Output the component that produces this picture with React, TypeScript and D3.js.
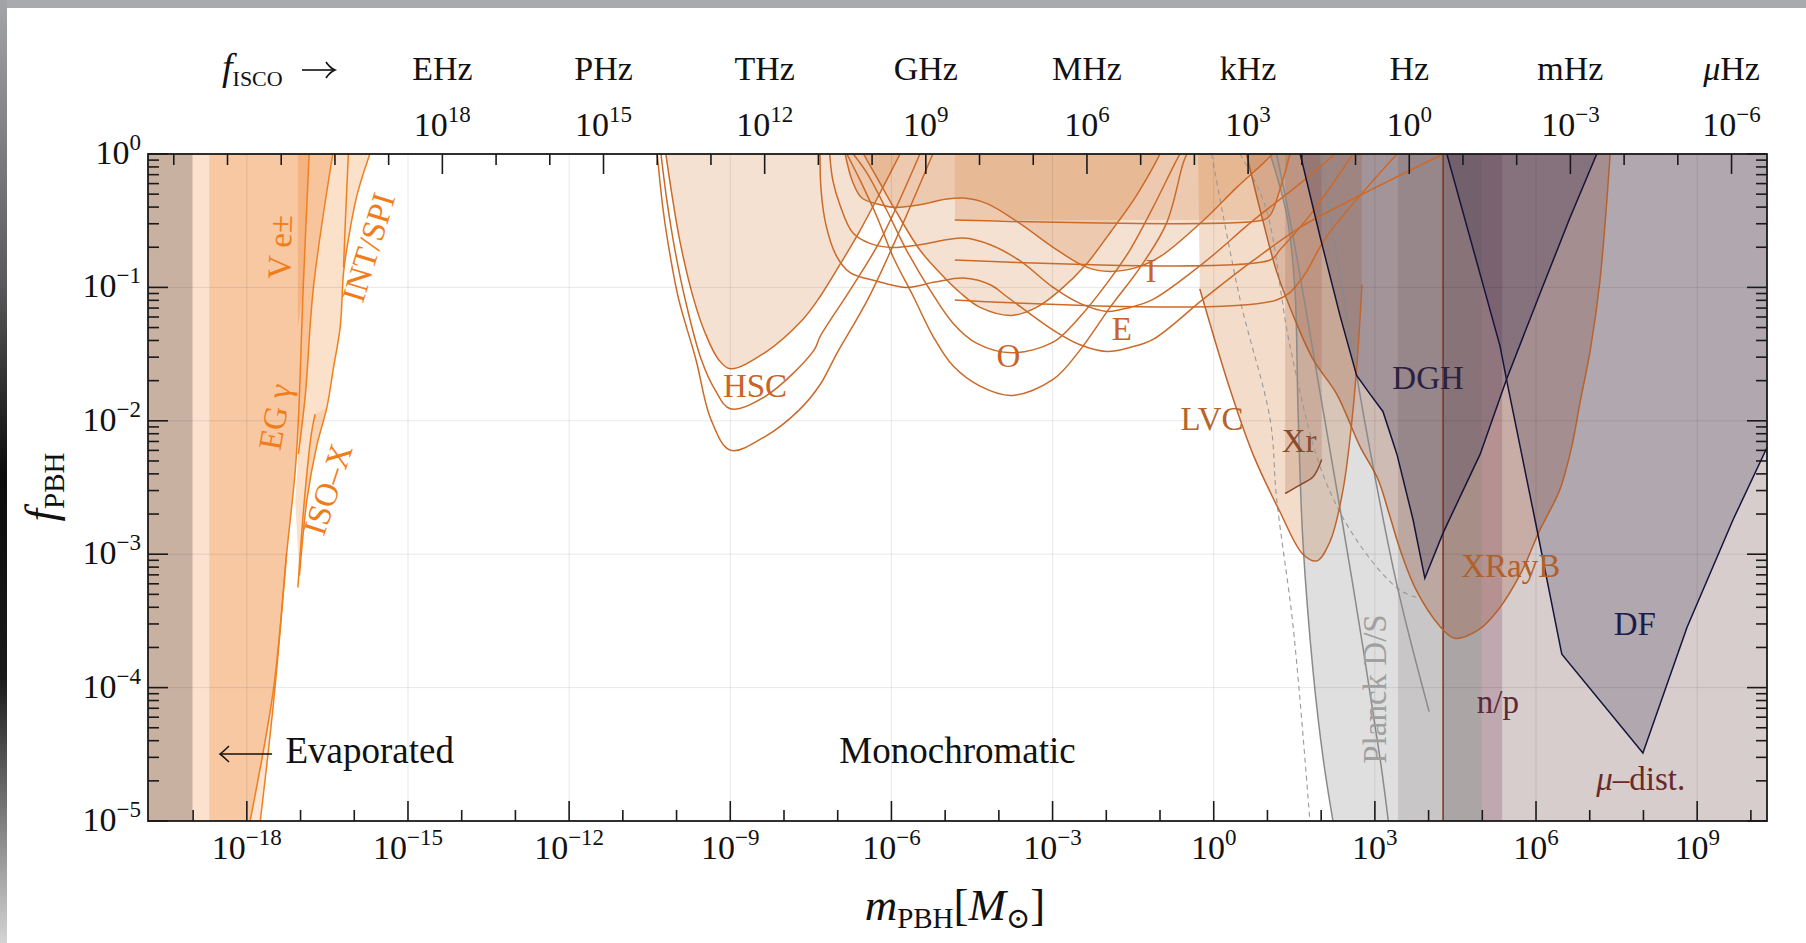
import React from "react";
import * as d3 from "d3";

type Pt = [number, number];

// every value is [log10(m / M_sun), log10(f_PBH)]
const massRange: Pt = [-19.84, 10.3];
const fracRange: Pt = [-5, 0];
const massTicks = d3.range(-19, 11);
const massLabels = [-18, -15, -12, -9, -6, -3, 0, 3, 6, 9];
const fracLabels = [0, -1, -2, -3, -4, -5];
const freqTicks = d3.range(-6, 24);
const freqLabels = [18, 15, 12, 9, 6, 3, 0, -3, -6];
const freqUnits = ["EHz", "PHz", "THz", "GHz", "MHz", "kHz", "Hz", "mHz", "μHz"];
const iscoConst = 3.64; // log10 f_ISCO[Hz] = 3.64 - log10 m

// evaporation
const evapRange: Pt = [-19.84, -19.01];
const brightRange: Pt = [-19.01, -18.7];
const egLine: Pt[] = [[-17.94, -5], [-17.5, -4], [-17.26, -3], [-17.1, -2.38], [-17.04, -1.99], [-16.95, -1], [-16.84, 0]];
const egLine2: Pt[] = [[-17.75, -5], [-17.5, -4.1], [-17.26, -3]];
const veBand: Pt[] = [[-17.05, 0], [-16.84, 0], [-16.95, -1], [-17.05, -1.3]];
const intLine: Pt[] = [[-17.04, -2.25], [-16.91, -1.8], [-16.76, -1], [-16.4, 0]];
const spiLine: Pt[] = [[-17.02, -3.16], [-16.88, -2.59], [-16.7, -2.19], [-16.51, -1.9], [-16.39, -1.61], [-16.26, -1.29], [-16.2, -0.89], [-16.11, -0.64], [-15.95, -0.31], [-15.71, 0]];
const spiLine2: Pt[] = [[-16.11, 0], [-16.16, -0.45], [-16.2, -0.85]];
const isoLine: Pt[] = [[-17.05, -3.25], [-16.93, -2.6], [-16.8, -2.1], [-16.73, -1.95]];

// microlensing
const hscInner: Pt[] = [[-10.2, 0], [-10.1, -0.27], [-9.94, -0.65], [-9.68, -1.09], [-9.47, -1.34], [-9.22, -1.54], [-9.0, -1.61], [-8.36, -1.49], [-7.65, -1.24], [-7.33, -1.07], [-6.96, -0.83], [-6.58, -0.57], [-6.21, -0.29], [-5.84, 0]];
const hscMid: Pt[] = [[-10.29, 0], [-10.18, -0.35], [-10.03, -0.72], [-9.84, -1.09], [-9.54, -1.54], [-9.28, -1.77], [-9.0, -1.91], [-8.36, -1.82], [-7.44, -1.47], [-7.33, -1.37], [-6.77, -1.02], [-6.21, -0.65], [-5.47, 0]];
const hscOuter: Pt[] = [[-10.36, 0], [-10.25, -0.42], [-10.12, -0.76], [-9.96, -1.09], [-9.64, -1.54], [-9.36, -1.99], [-9.0, -2.22], [-8.36, -2.12], [-7.72, -1.92], [-7.33, -1.73], [-7.01, -1.49], [-6.44, -1.09], [-5.84, -0.57], [-5.23, 0]];
const ogleInner: Pt[] = [[-6.52, 0], [-6.21, -0.22], [-5.9, -0.44], [-5.47, -0.72], [-5.1, -0.89], [-4.72, -1.04], [-4.35, -1.15], [-3.76, -1.21], [-3.3, -1.15], [-2.86, -1.02], [-2.36, -0.82], [-1.93, -0.59], [-1.5, -0.35], [-1.13, -0.1], [-1.0, 0]];
const ogleMid: Pt[] = [[-6.71, 0], [-6.46, -0.14], [-6.09, -0.42], [-5.72, -0.72], [-5.28, -1.02], [-4.85, -1.27], [-4.41, -1.42], [-3.76, -1.49], [-2.99, -1.41], [-2.49, -1.22], [-1.99, -0.97], [-1.56, -0.72], [-1.13, -0.4], [-0.76, -0.1], [-0.63, 0]];
const ogleOuter: Pt[] = [[-6.83, 0], [-6.58, -0.2], [-6.27, -0.47], [-5.97, -0.77], [-5.59, -1.07], [-5.22, -1.37], [-4.85, -1.59], [-4.35, -1.74], [-3.76, -1.81], [-2.99, -1.69], [-2.49, -1.47], [-1.93, -1.15], [-1.37, -0.85], [-0.88, -0.52], [-0.57, -0.07], [-0.5, 0]];
const erosTop: Pt[] = [[-6.86, 0], [-6.73, -0.2], [-6.55, -0.33], [-6.21, -0.38], [-5.94, -0.4], [-5.47, -0.38], [-5.0, -0.34], [-4.66, -0.33], [-4.23, -0.37], [-3.61, -0.52], [-2.99, -0.7], [-2.36, -0.85], [-1.93, -0.88], [-1.43, -0.85], [-1.0, -0.77], [-0.2, -0.5], [0.43, -0.25], [0.92, -0.07], [1.1, 0]];
const erosMid: Pt[] = [[-7.15, 0], [-7.09, -0.2], [-6.96, -0.38], [-6.72, -0.59], [-6.4, -0.67], [-6.01, -0.7], [-5.47, -0.68], [-4.66, -0.63], [-4.16, -0.68], [-3.61, -0.8], [-2.99, -1.0], [-2.49, -1.12], [-1.99, -1.18], [-1.56, -1.15], [-1.13, -1.09], [-0.2, -0.82], [0.73, -0.5], [1.61, -0.22], [2.26, 0]];
const erosLow: Pt[] = [[-7.33, 0], [-7.31, -0.27], [-7.22, -0.53], [-7.03, -0.76], [-6.77, -0.89], [-6.3, -0.95], [-5.73, -1.0], [-5.19, -0.96], [-4.66, -0.93], [-4.16, -0.98], [-3.85, -1.07], [-2.99, -1.32], [-2.49, -1.43], [-1.99, -1.48], [-1.56, -1.45], [-1.13, -1.39], [-0.2, -1.09], [0.73, -0.8], [1.61, -0.55], [2.48, -0.36], [4.27, 0]];
const icarus1: Pt[] = [[-4.82, -0.495], [0.92, -0.495], [1.05, -0.46], [1.23, -0.27], [1.42, 0]];
const icarus2: Pt[] = [[-4.82, -0.795], [1.05, -0.795], [1.23, -0.72], [1.79, -0.46], [2.59, 0]];
const icarus3: Pt[] = [[-4.82, -1.094], [1.17, -1.094], [1.61, -0.95], [2.1, -0.62], [3.41, 0]];

// gravitational waves / accretion
const lvcCurve: Pt[] = [[-0.26, -1.01], [0.3, -1.76], [0.73, -2.25], [1.23, -2.68], [1.66, -3.0], [1.92, -3.05], [2.17, -2.9], [2.41, -2.51], [2.59, -1.93], [2.69, -1.44], [2.76, -0.98]];
const lvcEdges: Pt = [-0.29, 2.76];
const xrRange: Pt = [1.33, 2.01];
const xrCurve: Pt[] = [[1.33, -2.545], [1.61, -2.48], [1.85, -2.42], [2.01, -2.29]];
const xrayB: Pt[] = [[0.61, 0], [0.89, -0.46], [1.17, -0.88], [1.48, -1.21], [1.85, -1.54], [2.29, -1.8], [2.72, -2.19], [3.06, -2.44], [3.26, -2.69], [3.49, -2.99], [3.77, -3.27], [4.21, -3.54], [4.49, -3.63], [4.92, -3.57], [5.29, -3.42], [5.72, -3.14], [6.07, -2.82], [6.44, -2.52], [6.65, -2.22], [6.83, -1.84], [7.01, -1.47], [7.19, -0.95], [7.38, 0]];
const planckD: Pt[] = [[1.05, 0], [1.36, -0.46], [1.51, -1.01], [1.57, -1.93], [1.66, -2.9], [1.85, -3.88], [2.04, -4.54], [2.22, -5]];
const planckS: Pt[] = [[1.17, 0], [1.45, -0.56], [2.04, -1.93], [2.59, -3.23], [3.1, -4.54], [3.25, -5]];
const planckAlt: Pt[] = [[1.98, 0], [2.3, -0.79], [2.85, -2.09], [3.41, -3.23], [4.01, -4.18]];
const dashed1: Pt[] = [[-0.04, 0], [0.49, -1.09], [1.05, -1.99], [1.17, -2.58], [1.48, -3.55], [1.79, -5]];
const dashed2: Pt[] = [[0.49, 0], [0.96, -0.39], [1.42, -1.44], [2.04, -2.41], [2.72, -2.93], [3.47, -3.27], [3.84, -3.33]];
const planckEdge = 5.37;

// dynamical / cosmological
const dgh: Pt[] = [[1.61, 0], [1.98, -0.62], [2.35, -1.21], [2.66, -1.66], [2.91, -1.8], [3.15, -1.93], [3.41, -2.25], [3.71, -2.74], [3.93, -3.18], [4.27, -2.84], [4.96, -2.25], [5.45, -1.69], [6.07, -1.05], [6.63, -0.48], [7.13, 0]];
const df: Pt[] = [[4.34, 0], [5.33, -1.44], [5.45, -1.69], [6.01, -2.8], [6.48, -3.75], [7.99, -4.49], [8.81, -3.55], [9.67, -2.74], [10.3, -2.2]];
const grayBand: Pt = [3.43, 5.37];
const darkBand: Pt = [4.27, 4.99];
const npBand: Pt = [4.99, 5.37];
const muBand: Pt = [5.37, 10.3];
const brownLine = 4.27;

// text annotations: [logm, logf]
const labels = [
  { t: "HSC", p: [-8.54, -1.82], c: "#c8642a" },
  { t: "O", p: [-3.82, -1.594], c: "#c8642a" },
  { t: "E", p: [-1.71, -1.394], c: "#c8642a" },
  { t: "I", p: [-1.17, -0.963], c: "#c8642a" },
  { t: "LVC", p: [-0.03, -2.069], c: "#b5652d" },
  { t: "Xr", p: [1.59, -2.234], c: "#8b4a2b" },
  { t: "DGH", p: [3.99, -1.762], c: "#2a2140" },
  { t: "XRayB", p: [5.53, -3.169], c: "#b0602a" },
  { t: "DF", p: [7.84, -3.604], c: "#1c1c4a" },
  { t: "n/p", p: [5.29, -4.19], c: "#5a2a3a" },
];
const rotLabels = [
  { t: "V e±", p: [-17.38, -0.697], r: -88, c: "#f07d1a" },
  { t: "EG γ", p: [-17.47, -1.97], r: -80, c: "#f07d1a" },
  { t: "INT/SPI", p: [-15.73, -0.702], r: -73, c: "#f07d1a" },
  { t: "ISO–X", p: [-16.49, -2.515], r: -72, c: "#f07d1a" },
  { t: "Planck D/S", p: [3.0, -4.011], r: -90, c: "#a0a0a0" },
];
const monoLabel: Pt = [-4.77, -4.565];
const evapLabel: Pt = [-17.28, -4.565];
const evapArrow: Pt[] = [[-17.53, -4.498], [-18.5, -4.498]];
const muLabel: Pt = [7.95, -4.77];

const FONT = "'Liberation Serif', 'DejaVu Serif', serif";
const LW = 1.5;

const sup = (e: number) => (e < 0 ? "−" + -e : String(e));

export default function App() {
  const L = 148, R = 1767, T = 154, B = 821;
  const x = d3.scaleLog().domain([10 ** massRange[0], 10 ** massRange[1]]).range([L, R]);
  const y = d3.scaleLog().domain([10 ** fracRange[0], 10 ** fracRange[1]]).range([B, T]);
  const X = (v: number) => x(10 ** v);
  const Y = (v: number) => y(10 ** v);
  const P = (p: number[]): [number, number] => [X(p[0]), Y(p[1])];
  const smooth = d3.line().curve(d3.curveCatmullRom.alpha(0.5));
  const linear = d3.line();
  const line = (pts: Pt[], s = true) => (s ? smooth : linear)(pts.map(P)) as string;
  const area = (pts: Pt[], close: Pt[] = [], s = true) =>
    line(pts, s) + close.map((p) => "L" + P(p).join(",")).join("") + "Z";
  const band = (r: Pt, lo = fracRange[0], hi = fracRange[1]) =>
    `M${X(r[0])},${Y(lo)}H${X(r[1])}V${Y(hi)}H${X(r[0])}Z`;

  const evapStroke = "#f07f1e";
  const lensStroke = "#cc6a28";
  const lensFill = "rgba(215,138,78,0.26)";
  const navy = "#15153c";

  const yMinor: number[] = [];
  for (let n = -5; n < 0; n++) for (let k = 2; k <= 9; k++) yMinor.push(n + Math.log10(k));

  const ax = X(evapArrow[1][0]);
  const ay = Y(evapArrow[1][1]);

  return (
    <div style={{ position: "absolute", left: 0, top: 0, width: 1806, height: 943, background: "#fff" }}>
      <svg width={1806} height={943} style={{ display: "block", fontFamily: FONT }}>
        <defs>
          <clipPath id="plot">
            <rect x={L} y={T} width={R - L} height={B - T} />
          </clipPath>
          <linearGradient id="edge" x1="0" y1="0" x2="0" y2="1">
            <stop offset="0" stopColor="#a3a4a8" />
            <stop offset="0.3" stopColor="#5a5a5c" />
            <stop offset="0.5" stopColor="#0c0c0c" />
            <stop offset="0.72" stopColor="#1a1a1a" />
            <stop offset="1" stopColor="#d4d4d4" />
          </linearGradient>
        </defs>
        <rect x={0} y={0} width={1806} height={8} fill="#a9aaae" />
        <rect x={0} y={0} width={7} height={943} fill="url(#edge)" />

        <g clipPath="url(#plot)">
          {/* evaporation */}
          <path d={band(evapRange)} fill="#c9b1a2" />
          <path d={band(brightRange)} fill="rgba(240,130,50,0.24)" />
          <path d={area(egLine, [[brightRange[1], 0], [brightRange[1], -5]])} fill="rgba(238,125,35,0.42)" />
          <path d={area(egLine2, [[-17.5, -4], [-17.94, -5]])} fill="rgba(238,125,35,0.2)" />
          <path d={area(intLine, [[-16.84, 0], [-16.95, -1], [-17.04, -1.99]])} fill="rgba(238,125,35,0.45)" />
          <path d={area(veBand, [], false)} fill="rgba(235,115,30,0.25)" />
          <path d={area(spiLine, [[-16.4, 0], [-16.76, -1], [-16.91, -1.8], [-17.04, -2.25], [-17.1, -2.6]])} fill="rgba(238,125,35,0.24)" />
          <path d={area(isoLine, [[-16.51, -1.9], [-16.7, -2.19], [-16.88, -2.59], [-17.02, -3.16]])} fill="rgba(238,125,35,0.14)" />

          {/* microlensing */}
          <path d={area(hscInner)} fill={lensFill} />
          <path d={area(ogleInner)} fill={lensFill} />
          <path d={area(erosTop)} fill={lensFill} />
          <path d={area(icarus1, [[icarus1[0][0], 0]], false)} fill={lensFill} />
          <path d={area(lvcCurve, [[lvcEdges[1], 0], [lvcEdges[0], 0]])} fill="rgba(220,140,80,0.3)" />

          {/* accretion and dynamics */}
          <path d={area(planckD, [[planckEdge, -5], [planckEdge, 0]])} fill="rgba(128,128,128,0.25)" />
          <path d={band(grayBand)} fill="rgba(128,120,120,0.24)" />
          <path d={band(darkBand)} fill="rgba(110,90,90,0.3)" />
          <path d={band(npBand)} fill="rgba(170,90,120,0.28)" />
          <path d={band(muBand)} fill="rgba(150,120,120,0.37)" />
          <path d={area(xrayB)} fill="rgba(150,80,50,0.25)" />
          <path d={area(xrCurve, [[xrRange[1], 0], [xrRange[0], 0]])} fill="rgba(150,80,50,0.2)" />
          <path d={area(dgh, [], false)} fill="rgba(40,30,70,0.25)" />
          <path d={area(df, [[massRange[1], 0]], false)} fill="rgba(40,30,70,0.22)" />

          {/* outlines */}
          <g fill="none" strokeWidth={1.1} stroke="#999" strokeDasharray="5,4">
            <path d={line(dashed1)} />
            <path d={line(dashed2)} />
          </g>
          <g fill="none" strokeWidth={LW} stroke="#8a8a8a">
            <path d={line(planckD)} />
            <path d={line(planckS)} />
            <path d={line(planckAlt)} />
          </g>
          <line x1={X(brownLine)} x2={X(brownLine)} y1={T} y2={B} stroke="#7a3424" strokeWidth={LW} />
          <g fill="none" strokeWidth={LW} stroke={evapStroke}>
            <path d={line(egLine)} />
            <path d={line(egLine2)} />
            <path d={line(intLine)} />
            <path d={line(spiLine)} />
            <path d={line(spiLine2)} />
            <path d={line(isoLine)} />
          </g>
          <g fill="none" strokeWidth={LW} stroke={lensStroke}>
            {[hscInner, hscMid, hscOuter, ogleInner, ogleMid, ogleOuter, erosTop, erosMid, erosLow].map((c, i) => (
              <path key={i} d={line(c)} />
            ))}
            {[icarus1, icarus2, icarus3].map((c, i) => (
              <path key={"i" + i} d={line(c)} />
            ))}
          </g>
          <path d={line(lvcCurve)} fill="none" stroke="#bf6630" strokeWidth={LW} />
          <path d={line(xrCurve)} fill="none" stroke="#8b4a2b" strokeWidth={LW} />
          <path d={line(xrayB)} fill="none" stroke="#b5622c" strokeWidth={LW} />
          <path d={line(dgh, false)} fill="none" stroke={navy} strokeWidth={LW} />
          <path d={line(df, false)} fill="none" stroke={navy} strokeWidth={LW} />

          {/* grid */}
          <g stroke="rgba(0,0,0,0.09)" strokeWidth={1}>
            {massLabels.map((m) => (
              <line key={m} x1={X(m)} x2={X(m)} y1={T} y2={B} />
            ))}
            {fracLabels.slice(1, 5).map((f) => (
              <line key={f} x1={L} x2={R} y1={Y(f)} y2={Y(f)} />
            ))}
          </g>
        </g>

        {/* frame and ticks */}
        <rect x={L} y={T} width={R - L} height={B - T} fill="none" stroke="#1a1a1a" strokeWidth={1.8} />
        <g stroke="#1a1a1a" strokeWidth={1.6}>
          {massTicks.map((m) => {
            const len = m % 3 === 0 ? 20 : 11;
            return <line key={m} x1={X(m)} x2={X(m)} y1={B} y2={B - len} />;
          })}
          {freqTicks.map((f) => {
            const m = iscoConst - f;
            const len = freqLabels.includes(f) ? 20 : 11;
            return <line key={f} x1={X(m)} x2={X(m)} y1={T} y2={T + len} />;
          })}
          {fracLabels.map((f) => (
            <g key={f}>
              <line x1={L} x2={L + 20} y1={Y(f)} y2={Y(f)} />
              <line x1={R} x2={R - 20} y1={Y(f)} y2={Y(f)} />
            </g>
          ))}
          {yMinor.map((f, i) => (
            <g key={i}>
              <line x1={L} x2={L + 11} y1={Y(f)} y2={Y(f)} />
              <line x1={R} x2={R - 11} y1={Y(f)} y2={Y(f)} />
            </g>
          ))}
        </g>

        {/* tick labels */}
        <g fill="#111" fontSize={34}>
          {massLabels.map((m) => (
            <text key={m} x={X(m)} y={859} textAnchor="middle">
              10<tspan dy={-14} fontSize={23}>{sup(m)}</tspan>
            </text>
          ))}
          {fracLabels.map((f) => (
            <text key={f} x={141} y={Y(f) + 10} textAnchor="end">
              10<tspan dy={-14} fontSize={23}>{sup(f)}</tspan>
            </text>
          ))}
          {freqLabels.map((f, i) => (
            <g key={f}>
              <text x={X(iscoConst - f)} y={80} textAnchor="middle">
                {freqUnits[i].startsWith("μ") ? (
                  <>
                    <tspan fontStyle="italic">μ</tspan>
                    {freqUnits[i].slice(1)}
                  </>
                ) : (
                  freqUnits[i]
                )}
              </text>
              <text x={X(iscoConst - f)} y={136} textAnchor="middle">
                10<tspan dy={-14} fontSize={23}>{sup(f)}</tspan>
              </text>
            </g>
          ))}
          <text x={222} y={80}>
            <tspan fontStyle="italic" fontSize={38}>f</tspan>
            <tspan fontSize={22} dy={6}>ISCO</tspan>
          </text>
        </g>
        <g stroke="#111" strokeWidth={1.6} fill="none">
          <line x1={302} x2={334} y1={70} y2={70} />
          <path d="M326,62 Q330,68 335,70 Q330,72 326,78" />
        </g>

        {/* axis titles */}
        <text x={955} y={920} textAnchor="middle" fontSize={45} fill="#111">
          <tspan fontStyle="italic">m</tspan>
          <tspan fontSize={29} dy={8}>PBH</tspan>
          <tspan dy={-8}>[</tspan>
          <tspan fontStyle="italic">M</tspan>
          <tspan fontSize={29} dy={8}>⊙</tspan>
          <tspan dy={-8}>]</tspan>
        </text>
        <text transform="translate(56,487) rotate(-90)" textAnchor="middle" fontSize={45} fill="#111">
          <tspan fontStyle="italic">f</tspan>
          <tspan fontSize={29} dy={8}>PBH</tspan>
        </text>

        {/* region labels */}
        <g fontSize={33}>
          {labels.map((l) => (
            <text key={l.t} x={X(l.p[0])} y={Y(l.p[1])} textAnchor="middle" fill={l.c}>
              {l.t}
            </text>
          ))}
          {rotLabels.map((l) => (
            <text
              key={l.t}
              transform={`translate(${X(l.p[0])},${Y(l.p[1])}) rotate(${l.r})`}
              textAnchor="middle"
              dy="0.33em"
              fill={l.c}
            >
              {l.t}
            </text>
          ))}
          <text x={X(muLabel[0])} y={Y(muLabel[1])} textAnchor="middle" fill="#6a2a2a">
            <tspan fontStyle="italic">μ</tspan>–dist.
          </text>
          <text x={X(evapLabel[0])} y={Y(evapLabel[1])} fill="#111" fontSize={37}>
            Evaporated
          </text>
          <text x={X(monoLabel[0])} y={Y(monoLabel[1])} textAnchor="middle" fill="#111" fontSize={37}>
            Monochromatic
          </text>
        </g>
        <g stroke="#111" strokeWidth={1.5} fill="none">
          <line x1={X(evapArrow[0][0])} x2={ax} y1={Y(evapArrow[0][1])} y2={ay} />
          <path d={`M${ax + 9},${ay - 8} Q${ax + 3},${ay - 2} ${ax},${ay} Q${ax + 3},${ay + 2} ${ax + 9},${ay + 8}`} />
        </g>
      </svg>
    </div>
  );
}
